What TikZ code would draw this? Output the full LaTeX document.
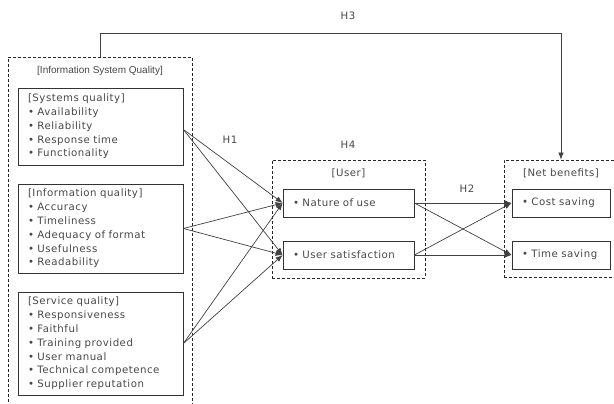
\documentclass[tikz,border=0pt]{standalone}
\usepackage{fontspec}
\setmainfont[LetterSpace=5]{DejaVu Sans}
\newfontfamily\narrowfont{Liberation Sans}
\usetikzlibrary{positioning,arrows.meta}
\begin{document}
\begin{tikzpicture}[x=1pt,y=-1pt,>={Latex[length=7pt,width=5.5pt]}]
\tikzset{
	itembox/.style={draw=black!80, line width=0.8pt, text=black!72, align=left,
		inner xsep=10pt, inner ysep=0pt, font=\fontsize{10.2}{13.8}\selectfont},
	groupbox/.style={draw=black!85, line width=0.8pt, dash pattern=on 3pt off 2pt},
	hyp/.style={text=black!72, font=\fontsize{10.2}{12}\selectfont},
	link/.style={->, draw=black!75, line width=0.7pt}
}
 \clip (0,0) rectangle (614,404);

 % les cadres en pointillés
 \node[groupbox, minimum width=184pt, minimum height=360pt] (isq) at (100,237) {};
 \node[groupbox, minimum width=153pt, minimum height=118pt] (user) at (348.5,219) {};
 \node[groupbox, minimum width=114pt, minimum height=117pt] (net) at (561,218.5) {};

 \node[hyp, font=\narrowfont\fontsize{10}{12}\selectfont] (isqtitle) at (100,71) {[Information System Quality]};
 \node[hyp] (usertitle) at (348.5,173) {[User]};
 \node[hyp] (nettitle) at (561,173) {[Net benefits]};

 % les boîtes
 \node[itembox, minimum width=165pt, minimum height=77pt, text width=145pt] (sysq) at (100.5,126.5)
	{[Systems quality]\\ • Availability\\ • Reliability\\ • Response time\\ • Functionality};
 \node[itembox, minimum width=165pt, minimum height=89pt, text width=145pt] (infq) at (100.5,228.5)
	{[Information quality]\\ • Accuracy\\ • Timeliness\\ • Adequacy of format\\ • Usefulness\\ • Readability};
 \node[itembox, minimum width=165pt, minimum height=103pt, text width=145pt] (servq) at (100.5,343.5)
	{[Service quality]\\ • Responsiveness\\ • Faithful\\ • Training provided\\ • User manual\\ • Technical competence\\ • Supplier reputation};

 \node[itembox, minimum width=131pt, minimum height=28pt, text width=111pt] (nature) at (348.5,203) {• Nature of use};
 \node[itembox, minimum width=131pt, minimum height=28pt, text width=111pt] (usat) at (348.5,255) {• User satisfaction};
 \node[itembox, minimum width=98pt, minimum height=28pt, text width=78pt] (cost) at (561,203) {• Cost saving};
 \node[itembox, minimum width=98pt, minimum height=28pt, text width=78pt] (time) at (561,255) {• Time saving};

 % les flèches H1
 \foreach \dst in {nature,usat}
   \draw[link] ([yshift=-3pt]sysq.east) -- (\dst.west);
 \foreach \src in {infq,servq}
   \foreach \dst in {nature,usat}
     \draw[link] (\src.east) -- (\dst.west);

 % les flèches H2
 \foreach \src in {nature,usat}
   \foreach \dst in {cost,time}
     \draw[link] (\src.east) -- (\dst.west);

 % H3
 \draw[link] (isq.north) -- ++(0,-23) -| (net.north);

 % du texte
 \node[hyp] (hone) at (230,140) {H1};
 \node[hyp] (htwo) at (467,189) {H2};
 \node[hyp] (hthree) at (348,16) {H3};
 \node[hyp] (hfour) at (348,145) {H4};
\end{tikzpicture}
\end{document}
